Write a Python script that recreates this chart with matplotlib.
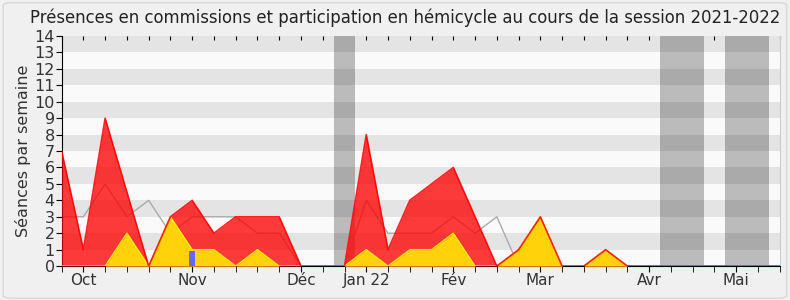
import numpy as np
import matplotlib
matplotlib.use("Agg")
import matplotlib.pyplot as plt
from matplotlib.patches import FancyBboxPatch

# weekly values, week 0 = last week of September 2021
weeks = np.arange(34)
hemicycle = [7, 1, 9, 4.5, 0, 3, 4, 2, 3, 3, 3, 0, 0, 0, 8, 1, 4, 5, 6, 3,
             0, 1, 3, 0, 0, 1, 0, 0, 0, 0, 0, 0, 0, 0]
commissions = [0, 0, 0, 2, 0, 3, 1, 1, 0, 1, 0, 0, 0, 0, 1, 0, 1, 1, 2, 0,
               0, 1, 3, 0, 0, 1, 0, 0, 0, 0, 0, 0, 0, 0]
mediane = [3, 3, 5, 3, 4, 2, 3, 3, 3, 2, 2, 0, 0, 0, 4, 2, 2, 2, 3, 2,
           3, 0, 0, 0, 0, 0, 0, 0, 0, 0, 0, 0, 0, 0]
questions_week = [6]
questions_val = [0.9]
vacances = [(12.5, 13.5), (27.5, 29.5), (30.5, 32.5)]
month_pos = [1, 6, 11, 14, 18, 22, 27, 31]
month_labels = ["Oct", "Nov", "Déc", "Jan 22", "Fév", "Mar", "Avr", "Mai"]

fig = plt.figure(figsize=(7.9, 3.0), dpi=100, facecolor="#f0f0f0")
fig.patches.append(FancyBboxPatch((0.004, 0.006), 0.992, 0.985, boxstyle="round,pad=0,rounding_size=0.01",
                                  transform=fig.transFigure, facecolor="none", edgecolor="#d8d8d8", lw=1))
ax = fig.add_axes([0.078, 0.113, 0.909, 0.767])
ax.set_facecolor("#fafafa")

# holiday weeks
for a, b in vacances:
    ax.axvspan(a, b, color="#bbbbbb", lw=0, zorder=0.5)
# horizontal bands
for y in range(1, 14, 2):
    ax.axhspan(y, y + 1, color="black", alpha=0.088, lw=0, zorder=1)

ax.plot(weeks, mediane, color="#aaaaaa", lw=1, zorder=2)
ax.fill_between(weeks, hemicycle, color="#ff0000", alpha=0.77, lw=0, zorder=3)
ax.fill_between(weeks, commissions, color="#ffd20a", lw=0, zorder=4)
ax.plot(weeks, commissions, color="#ffee00", lw=1, zorder=5)
ax.plot(weeks, hemicycle, color="#ff0000", lw=1.2, alpha=0.85, zorder=6)
ax.bar(questions_week, questions_val, width=0.28, color="#6666ff", zorder=7)

ax.set_xlim(0, 33)
ax.set_ylim(0, 14)
ax.set_yticks(range(15))
ax.set_xticks(range(34), minor=True)
ax.set_xticks(month_pos)
ax.set_xticklabels(month_labels)
ax.tick_params(axis="x", which="both", length=4, direction="out",
               labelsize=11, pad=1, labelcolor="#333333")
ax.tick_params(axis="y", length=4, labelsize=11.5, pad=1, labelcolor="#333333")

# small inward ticks along the top edge
top = ax.secondary_xaxis("top")
top.set_xticks(range(34))
top.tick_params(direction="in", length=3, labeltop=False)
top.spines["top"].set_visible(False)

ax.spines["top"].set_visible(False)
ax.spines["right"].set_color("#cccccc")
ax.set_ylabel("Séances par semaine", fontsize=11.5, color="#333333", labelpad=2)
fig.text(0.513, 0.94, "Présences en commissions et participation en hémicycle au cours de la session 2021-2022",
         fontsize=11.9, color="#222222", ha="center", va="center")

fig.savefig("out.png", dpi=100, facecolor=fig.get_facecolor())
